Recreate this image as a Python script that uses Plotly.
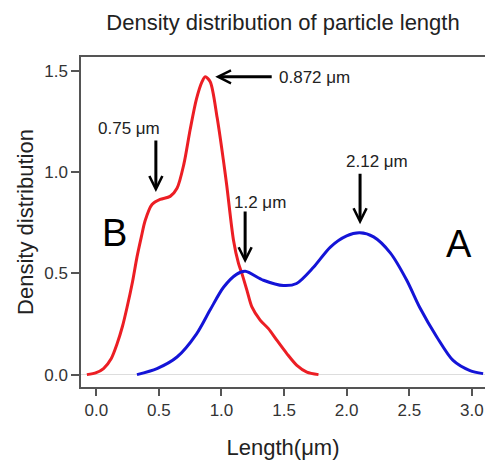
import plotly.graph_objects as go

# Curve B (red)
b_x = [-0.075, 0.0, 0.058, 0.12, 0.165, 0.21, 0.245, 0.29, 0.325, 0.36, 0.39, 0.445,
       0.51, 0.59, 0.645, 0.70, 0.75, 0.80, 0.845, 0.87, 0.91, 0.965, 1.015, 1.043,
       1.096, 1.136, 1.163, 1.203, 1.243, 1.309, 1.375, 1.442, 1.522, 1.602, 1.682, 1.775]
b_y = [0.0, 0.01, 0.03, 0.08, 0.15, 0.24, 0.33, 0.46, 0.58, 0.68, 0.76, 0.84,
       0.865, 0.88, 0.92, 1.04, 1.21, 1.36, 1.446, 1.47, 1.446, 1.27, 1.06, 0.93,
       0.664, 0.549, 0.50, 0.417, 0.334, 0.269, 0.227, 0.170, 0.104, 0.046, 0.013, 0.0]

# Curve A (blue)
a_x = [0.325, 0.485, 0.645, 0.80, 0.91, 1.015, 1.12, 1.19, 1.335, 1.495, 1.60, 1.735,
       1.87, 2.0, 2.105, 2.215, 2.35, 2.48, 2.585, 2.72, 2.85, 2.985, 3.09]
a_y = [0.0, 0.03, 0.087, 0.20, 0.32, 0.43, 0.495, 0.51, 0.466, 0.44, 0.45, 0.53,
       0.63, 0.685, 0.70, 0.68, 0.60, 0.466, 0.33, 0.186, 0.07, 0.02, 0.005]

x_ticks = [0.0, 0.5, 1.0, 1.5, 2.0, 2.5, 3.0]
y_ticks = [0.0, 0.5, 1.0, 1.5]

# Peak labels and their arrows
peak_labels = ["0.872 \u03bcm", "0.75 \u03bcm", "1.2 \u03bcm", "2.12 \u03bcm"]
label_x = [1.445, 0.263, 1.309, 2.243]
label_y = [1.465, 1.213, 0.852, 1.05]
tip_x = [0.950, 0.476, 1.189, 2.107]
tip_y = [1.470, 0.902, 0.551, 0.743]
arrow_dx = [58, 0, 0, 0]
arrow_dy = [0, -53, -53, -52]

FONT = "Liberation Sans, Arial, sans-serif"

fig = go.Figure()
fig.add_trace(go.Scatter(x=b_x, y=b_y, mode="lines", name="B",
                         line=dict(color="rgb(236,30,36)", width=3, shape="spline", smoothing=0.8)))
fig.add_trace(go.Scatter(x=a_x, y=a_y, mode="lines", name="A",
                         line=dict(color="rgb(20,20,215)", width=3, shape="spline", smoothing=0.8)))

annotations = []
for i, t in enumerate(peak_labels):
    annotations.append(dict(x=tip_x[i], y=tip_y[i], xref="x", yref="y", text="",
                            showarrow=True, arrowhead=5, arrowwidth=3, arrowsize=0.85,
                            arrowcolor="black", ax=arrow_dx[i], ay=arrow_dy[i], standoff=0))
    annotations.append(dict(x=label_x[i], y=label_y[i], xref="x", yref="y", text=t,
                            showarrow=False, font=dict(family=FONT, size=17, color="#222"),
                            xanchor="left" if i == 0 else "center", yanchor="middle"))

annotations.append(dict(x=0.144, y=0.70, xref="x", yref="y", text="B", showarrow=False,
                        font=dict(family=FONT, size=38, color="black")))
annotations.append(dict(x=2.897, y=0.645, xref="x", yref="y", text="A", showarrow=False,
                        font=dict(family=FONT, size=38, color="black")))

fig.update_layout(
    width=485, height=460,
    margin=dict(l=81, r=0, t=57, b=73),
    paper_bgcolor="white", plot_bgcolor="white",
    showlegend=False,
    font=dict(family=FONT, color="#333"),
    title=dict(text="Density distribution of particle length", x=0.5, xref="paper",
               y=1 - 22 / 460, yref="container", xanchor="center", yanchor="middle",
               font=dict(family=FONT, size=22, color="#222")),
    annotations=annotations,
)
fig.update_xaxes(range=[-0.122, 3.105], tickvals=x_ticks, tickformat=".1f",
                 showgrid=False, zeroline=False, showline=True, linecolor="#555", linewidth=1.5,
                 mirror=True, ticks="outside", ticklen=7, tickwidth=1.5, tickcolor="#555",
                 tickfont=dict(family=FONT, size=17, color="#333"),
                 title=dict(text="Length(\u03bcm)", font=dict(family=FONT, size=22, color="#222"), standoff=21))
fig.update_yaxes(range=[-0.061, 1.568], tickvals=y_ticks, tickformat=".1f",
                 showgrid=False, zeroline=True, zerolinecolor="#dddddd", zerolinewidth=1,
                 showline=True, linecolor="#555", linewidth=1.5, mirror=False,
                 ticks="outside", ticklen=8, tickwidth=1.5, tickcolor="#555",
                 tickfont=dict(family=FONT, size=17, color="#333"),
                 title=dict(text="Density distribution", font=dict(family=FONT, size=22, color="#222"), standoff=5))

fig.write_html("out.html", config={"displayModeBar": False},
               post_script="document.body.style.margin='0px';")
